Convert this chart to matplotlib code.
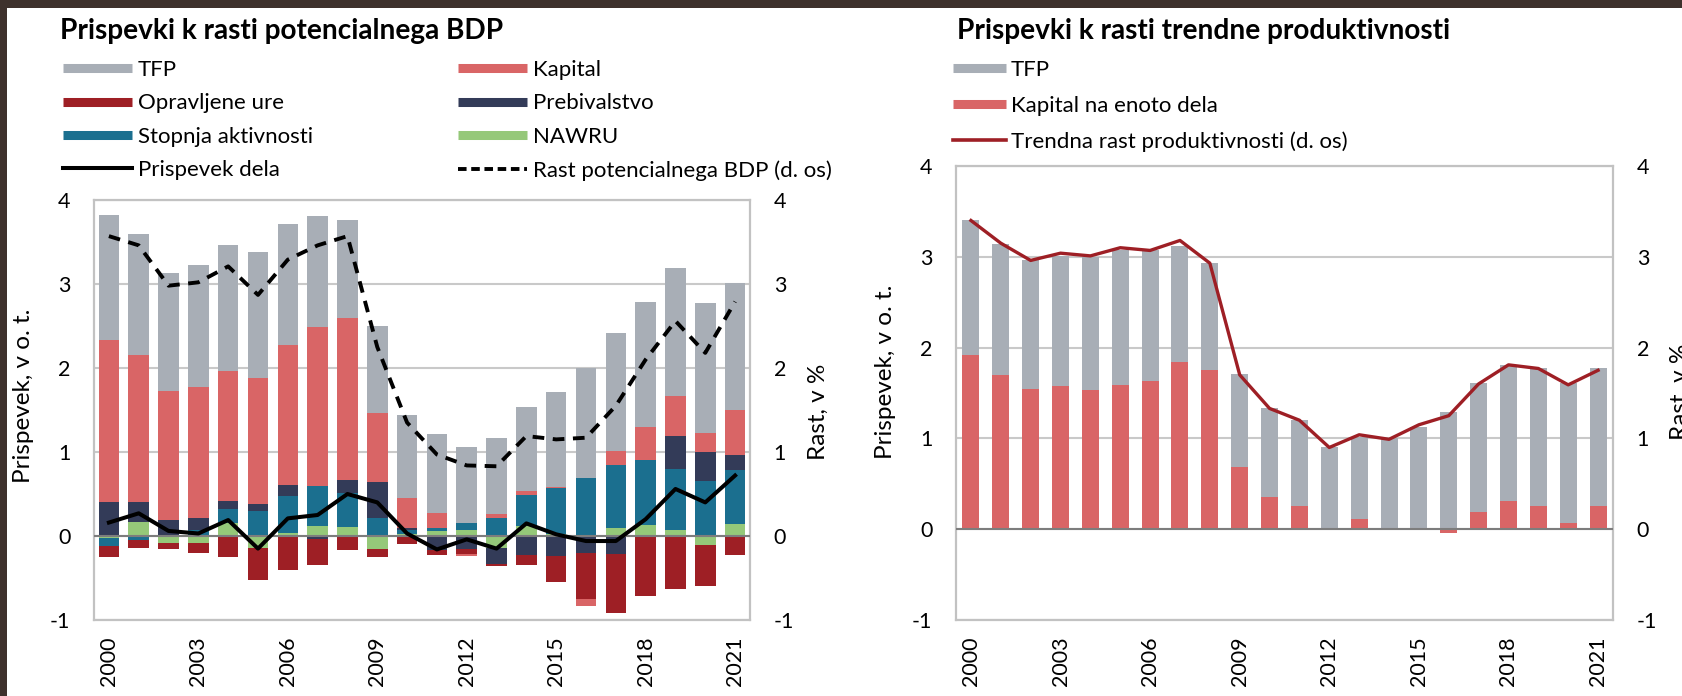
import numpy as np
import matplotlib
matplotlib.use("Agg")
import matplotlib.pyplot as plt
from matplotlib import font_manager
from matplotlib.patches import Rectangle
from matplotlib.lines import Line2D

# ---------------- data ----------------
years = list(range(2000, 2022))
tick_years = [2000, 2003, 2006, 2009, 2012, 2015, 2018, 2021]
ytick_vals = [-1, 0, 1, 2, 3, 4]
ytick_labels = ["-1", "0", "1", "2", "3", "4"]

# Left panel: contributions to potential GDP growth (p.p.)
tfp = [1.49, 1.44, 1.40, 1.46, 1.50, 1.50, 1.45, 1.32, 1.17, 1.03, 0.99,
       0.94, 0.90, 0.91, 1.01, 1.13, 1.31, 1.41, 1.49, 1.52, 1.54, 1.51]
kapital = [1.92, 1.76, 1.54, 1.55, 1.55, 1.50, 1.66, 1.89, 1.92, 0.83, 0.35,
           0.18, -0.03, 0.05, 0.04, 0.01, -0.08, 0.16, 0.39, 0.48, 0.23, 0.54]
opravljene_ure = [-0.13, -0.09, -0.07, -0.12, -0.25, -0.38, -0.40, -0.31, -0.17, -0.10, -0.09,
                  -0.06, -0.06, -0.03, -0.12, -0.31, -0.55, -0.70, -0.72, -0.63, -0.49, -0.23]
prebivalstvo = [0.41, 0.23, 0.19, 0.15, 0.10, 0.08, 0.13, -0.04, 0.16, 0.43, 0.03,
                -0.17, -0.15, -0.19, -0.23, -0.24, -0.20, -0.22, 0.00, 0.39, 0.34, 0.18]
stopnja_aktivnosti = [-0.10, -0.05, 0.00, 0.07, 0.16, 0.30, 0.44, 0.48, 0.40, 0.21, 0.05,
                      0.03, 0.09, 0.21, 0.37, 0.55, 0.69, 0.76, 0.78, 0.73, 0.66, 0.64]
nawru = [-0.02, 0.17, -0.08, -0.08, 0.16, -0.14, 0.04, 0.12, 0.11, -0.15, 0.02,
         0.06, 0.07, -0.14, 0.12, 0.02, 0.00, 0.09, 0.13, 0.07, -0.11, 0.14]
prispevek_dela = [0.16, 0.27, 0.06, 0.03, 0.19, -0.15, 0.21, 0.25, 0.50, 0.40, 0.03,
                  -0.16, -0.04, -0.15, 0.15, 0.02, -0.06, -0.06, 0.20, 0.56, 0.40, 0.72]
rast_potencialnega_bdp = [3.57, 3.46, 2.98, 3.02, 3.21, 2.87, 3.29, 3.46, 3.57, 2.25, 1.35,
                          0.97, 0.84, 0.83, 1.19, 1.15, 1.17, 1.55, 2.10, 2.56, 2.18, 2.79]

# Right panel: contributions to trend productivity growth
tfp_prod = [1.48, 1.44, 1.42, 1.43, 1.47, 1.48, 1.44, 1.28, 1.18, 1.03, 0.99,
            0.94, 0.91, 0.91, 1.00, 1.13, 1.29, 1.42, 1.50, 1.52, 1.54, 1.51]
kapital_na_enoto_dela = [1.92, 1.70, 1.54, 1.58, 1.53, 1.59, 1.63, 1.84, 1.75, 0.68, 0.35,
                         0.26, 0.00, 0.11, 0.00, 0.00, -0.04, 0.19, 0.31, 0.26, 0.07, 0.26]
trendna_rast = [3.40, 3.15, 2.96, 3.04, 3.01, 3.10, 3.07, 3.18, 2.93, 1.70, 1.33,
                1.20, 0.90, 1.04, 0.99, 1.15, 1.25, 1.60, 1.81, 1.77, 1.59, 1.75]

# ---------------- style ----------------
C_TFP = "#a8aeb6"
C_KAP = "#d96566"
C_URE = "#9e1f25"
C_PREB = "#333b58"
C_AKT = "#1b6f8f"
C_NAWRU = "#95c879"
C_TREND = "#9e1f25"
GRID = "#c9c9c9"
FRAME = "#c2c2c2"
ZERO = "#7d7d7d"
BORDER = "#3e312c"

avail = {f.name for f in font_manager.fontManager.ttflist}
def pick(*names):
    for n in names:
        if n in avail:
            return n
    return "DejaVu Sans"

base_font = pick("Lato", "Open Sans", "Noto Sans", "DejaVu Sans")
plt.rcParams["font.family"] = [base_font, "DejaVu Sans"]
TICK_FS = 15.5
LABEL_FS = 17.5
LEG_FS = 16
TITLE_FS = 20.2

W, H = 1682, 696
fig = plt.figure(figsize=(W / 100, H / 100), dpi=100)
fig.patch.set_facecolor("white")

def px_rect(x0, y0, x1, y1):
    return [x0 / W, 1 - y1 / H, (x1 - x0) / W, (y1 - y0) / H]

ax1 = fig.add_axes(px_rect(94, 200, 750, 620))
ax2 = fig.add_axes(px_rect(956, 166, 1613, 620))
xpos = np.arange(len(years))


def style(ax):
    ax.set_xlim(-0.5, len(years) - 0.5)
    ax.set_ylim(-1, 4)
    ax.set_yticks(ytick_vals)
    ax.set_yticklabels(ytick_labels)
    ax.grid(axis="y", color=GRID, lw=1.5, zorder=0)
    ax.set_axisbelow(True)
    for s in ax.spines.values():
        s.set_color(FRAME)
        s.set_linewidth(1.6)
    ax.tick_params(axis="y", length=0, pad=17, labelsize=TICK_FS)
    ax.set_xticks([years.index(y) for y in tick_years])
    ax.set_xticklabels([str(y) for y in tick_years], rotation=90)
    ax.tick_params(axis="x", length=0, pad=12, labelsize=TICK_FS)
    ax.axhline(0, color=ZERO, lw=1.5, zorder=3)
    t = ax.twinx()
    t.set_ylim(-1, 4)
    t.set_yticks(ytick_vals)
    t.set_yticklabels(ytick_labels)
    t.tick_params(axis="y", length=0, pad=17, labelsize=TICK_FS)
    for s in t.spines.values():
        s.set_visible(False)
    return t


def stacked(ax, series, colors, width):
    pos = np.zeros(len(xpos))
    neg = np.zeros(len(xpos))
    for vals, c in zip(series, colors):
        v = np.asarray(vals, dtype=float)
        bottom = np.where(v >= 0, pos, neg)
        ax.bar(xpos, v, width, bottom=bottom, color=c, zorder=2, linewidth=0)
        pos += np.where(v > 0, v, 0)
        neg += np.where(v < 0, v, 0)


# ---------- left panel ----------
t1 = style(ax1)
stacked(ax1,
        [nawru, stopnja_aktivnosti, prebivalstvo, opravljene_ure, kapital, tfp],
        [C_NAWRU, C_AKT, C_PREB, C_URE, C_KAP, C_TFP], 0.69)
ax1.plot(xpos, prispevek_dela, color="black", lw=2.9, zorder=4)
t1.plot(xpos, rast_potencialnega_bdp, color="black", lw=2.8,
        linestyle=(0, (3.0, 2.2)), zorder=4)

# ---------- right panel ----------
t2 = style(ax2)
stacked(ax2, [kapital_na_enoto_dela, tfp_prod], [C_KAP, C_TFP], 0.57)
t2.plot(xpos, trendna_rast, color=C_TREND, lw=2.4, zorder=4)

# ---------- titles ----------
fig.text(60 / W, 1 - 39 / H, "Prispevki k rasti potencialnega BDP",
         fontsize=TITLE_FS, fontweight="bold", va="baseline", ha="left")
fig.text(957 / W, 1 - 39 / H, "Prispevki k rasti trendne produktivnosti",
         fontsize=TITLE_FS, fontweight="bold", va="baseline", ha="left")

# ---------- axis labels ----------
fig.text(24 / W, 1 - 396 / H, "Prispevek, v o. t.", rotation=90,
         ha="center", va="center", fontsize=LABEL_FS)
fig.text(818 / W, 1 - 412 / H, "Rast, v %", rotation=90,
         ha="center", va="center", fontsize=LABEL_FS)
fig.text(886 / W, 1 - 372 / H, "Prispevek, v o. t.", rotation=90,
         ha="center", va="center", fontsize=LABEL_FS)
fig.text(1680 / W, 1 - 392 / H, "Rast, v %", rotation=90,
         ha="center", va="center", fontsize=LABEL_FS)

# ---------- legends ----------
def bar_handle(c):
    return Line2D([], [], color=c, lw=6.5, solid_capstyle="butt")

leg_kw = dict(loc="upper left", frameon=False, borderpad=0, borderaxespad=0,
              fontsize=LEG_FS, bbox_transform=fig.transFigure)

l1 = fig.legend([bar_handle(C_TFP), bar_handle(C_URE), bar_handle(C_AKT),
                 Line2D([], [], color="black", lw=2.9)],
                ["TFP", "Opravljene ure", "Stopnja aktivnosti", "Prispevek dela"],
                bbox_to_anchor=(63 / W, 1 - 60 / H), handlelength=3.1,
                handletextpad=0.27, labelspacing=0.60, **leg_kw)
l2 = fig.legend([bar_handle(C_KAP), bar_handle(C_PREB), bar_handle(C_NAWRU),
                 Line2D([], [], color="black", lw=2.8, linestyle=(0, (2.2, 1.2)))],
                ["Kapital", "Prebivalstvo", "NAWRU", "Rast potencialnega BDP (d. os)"],
                bbox_to_anchor=(458 / W, 1 - 60 / H), handlelength=3.1,
                handletextpad=0.27, labelspacing=0.60, **leg_kw)
l3 = fig.legend([bar_handle(C_TFP), bar_handle(C_KAP),
                 Line2D([], [], color=C_TREND, lw=2.6)],
                ["TFP", "Kapital na enoto dela", "Trendna rast produktivnosti (d. os)"],
                bbox_to_anchor=(953 / W, 1 - 60 / H), handlelength=2.38,
                handletextpad=0.23, labelspacing=0.70, **leg_kw)

# ---------- dark frame on top and left edge ----------
fig.patches.append(Rectangle((0, 1 - 8 / H), 1, 8 / H, transform=fig.transFigure,
                             facecolor=BORDER, edgecolor="none", zorder=10))
fig.patches.append(Rectangle((0, 0), 7 / W, 1, transform=fig.transFigure,
                             facecolor=BORDER, edgecolor="none", zorder=10))

fig.savefig("out.png", dpi=100, facecolor="white")
